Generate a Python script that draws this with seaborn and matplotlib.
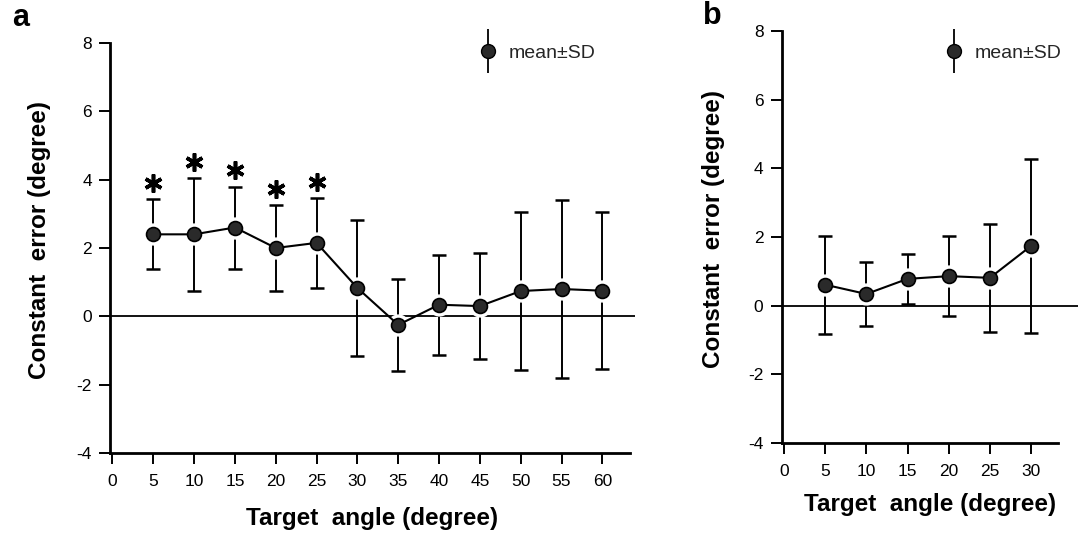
import numpy as np
import pandas as pd
import matplotlib
matplotlib.use("Agg")
import matplotlib.pyplot as plt
from matplotlib.legend_handler import HandlerErrorbar
import seaborn as sns

# ---- data ----
angles_a = [5, 10, 15, 20, 25, 30, 35, 40, 45, 50, 55, 60]
mean_a = [2.4, 2.4, 2.6, 2.0, 2.15, 0.83, -0.25, 0.34, 0.30, 0.74, 0.80, 0.75]
sd_a = [1.02, 1.65, 1.2, 1.27, 1.32, 2.0, 1.35, 1.46, 1.55, 2.3, 2.6, 2.3]
signif_a = [5, 10, 15, 20, 25]

angles_b = [5, 10, 15, 20, 25, 30]
mean_b = [0.61, 0.34, 0.78, 0.86, 0.81, 1.74]
sd_b = [1.43, 0.92, 0.73, 1.16, 1.58, 2.54]

xticks_a = list(range(0, 65, 5))
xticks_b = list(range(0, 35, 5))
yticks = [-4, -2, 0, 2, 4, 6, 8]

sns.set_theme(style="ticks")
plt.rcParams['font.family'] = ['Liberation Sans', 'DejaVu Sans']
plt.rcParams['axes.unicode_minus'] = False

W, H = 1084, 536
fig = plt.figure(figsize=(W / 100, H / 100), dpi=100)


def px_axes(left, right, top, bottom):
    return fig.add_axes([left / W, 1 - bottom / H, (right - left) / W,
                         (bottom - top) / H])


ax_a = px_axes(110, 635, 43, 453)
ax_b = px_axes(781.5, 1078, 31, 443)


def draw(ax, x, m, s, xticks, xlim, spine_end, legend_xy, xlabelpad,
         ylabel_xy, star=None):
    df = pd.DataFrame({"angle": x, "mean": m, "sd": s})
    ax.axhline(0, color="black", lw=1.3, zorder=1)
    ax.errorbar(df["angle"], df["mean"], yerr=df["sd"], fmt="none",
                ecolor="black", elinewidth=1.4, capsize=5, capthick=1.8,
                zorder=2)
    # white halo around markers (gap between marker and error bar)
    ax.plot(df["angle"], df["mean"], ls="none", marker="o", ms=15,
            mfc="white", mec="white", zorder=3)
    sns.lineplot(data=df, x="angle", y="mean", ax=ax, color="black",
                 lw=1.5, marker="o", markersize=10,
                 markerfacecolor="#2a2a2a", markeredgecolor="black",
                 markeredgewidth=1.2, zorder=4)
    if star is not None:
        sx = [xi for xi in x if xi in star]
        sy = [mi + si + 0.47 for xi, mi, si in zip(x, m, s) if xi in star]
        ax.plot(sx, sy, ls="none", marker=(6, 2, 0), ms=13, mew=2.6,
                color="black", zorder=5)
    ax.set_xlim(*xlim)
    ax.set_ylim(-4, 8)
    ax.set_xticks(xticks)
    ax.set_yticks(yticks)
    ax.tick_params(axis="both", labelsize=12.5, length=8, width=1.4,
                   direction="out", colors="black", pad=5)
    ax.tick_params(axis="x", pad=7)
    for sp in ["top", "right"]:
        ax.spines[sp].set_visible(False)
    for sp in ["left", "bottom"]:
        ax.spines[sp].set_linewidth(2.0)
        ax.spines[sp].set_color("black")
    ax.spines["bottom"].set_bounds(xlim[0], spine_end)
    ax.set_xlabel("Target  angle (degree)", fontsize=17.5, fontweight="bold",
                  labelpad=xlabelpad, color="black")
    ax.set_ylabel("Constant  error (degree)", fontsize=17.5, fontweight="bold",
                  color="black")
    ax.yaxis.set_label_coords(*ylabel_xy)
    h = ax.errorbar([], [], yerr=[], fmt="o", ms=10, mfc="#2a2a2a",
                    mec="black", ecolor="black", elinewidth=1.3, capsize=0)
    ax.legend([h], ["mean\u00b1SD"], loc="center left",
              bbox_to_anchor=(legend_xy[0] / W, 1 - legend_xy[1] / H),
              bbox_transform=fig.transFigure, frameon=False,
              fontsize=14, handlelength=1.0, handletextpad=0.6,
              borderpad=0, borderaxespad=0,
              handler_map={type(h): HandlerErrorbar(yerr_size=1.15)})


draw(ax_a, angles_a, mean_a, sd_a, xticks_a, (-0.3, 64), 63.4,
     (478, 53), 13, (-0.112, 0.52), star=signif_a)
draw(ax_b, angles_b, mean_b, sd_b, xticks_b, (-0.3, 35.7), 33.3,
     (944, 53), 10, (-0.19, 0.52))

fig.text(12 / W, 1 - 18 / H, "a", fontsize=22, fontweight="bold",
         ha="left", va="center", color="black")
fig.text(703 / W, 1 - 16 / H, "b", fontsize=22, fontweight="bold",
         ha="left", va="center", color="black")

fig.savefig("out.png", dpi=100)
